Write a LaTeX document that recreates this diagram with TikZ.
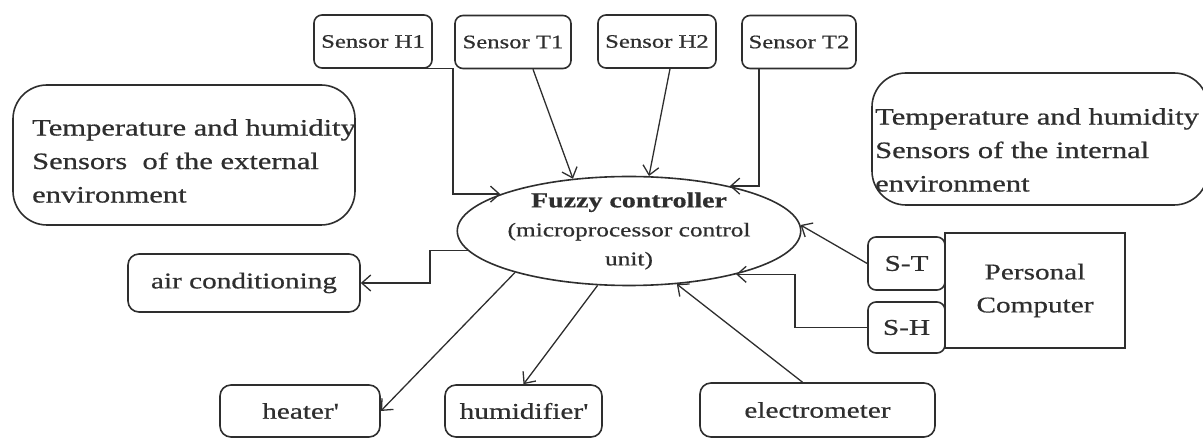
\documentclass[tikz,border=0pt]{standalone}
\usepackage{fontspec}
\setmainfont[FakeStretch=1.3, FakeBold=0.6]{Liberation Serif}
\usetikzlibrary{arrows.meta,shapes.geometric}
\definecolor{ink}{gray}{0.18}

\begin{document}
\begin{tikzpicture}[x=1pt,y=-1pt,
  sensorbox/.style={draw=ink, line width=1.6pt, rounded corners=8pt, inner sep=0pt,
    text=ink, font=\fontsize{19}{22}\selectfont},
  unitbox/.style={draw=ink, line width=1.6pt, rounded corners=11pt, inner sep=0pt,
    text=ink, font=\fontsize{22.5}{27}\selectfont},
  pcbox/.style={draw=ink, line width=1.6pt, inner sep=0pt, align=center,
    text=ink, font=\fontsize{22.5}{33}\selectfont},
  bigbox/.style={draw=ink, line width=1.6pt, rounded corners=34pt},
  bigtext/.style={inner sep=0pt, align=left, anchor=west, text=ink,
    font=\fontsize{23.5}{33.5}\selectfont},
  ctrl/.style={draw=ink, line width=1.6pt, ellipse, inner sep=0pt, align=center,
    text=ink, font=\fontsize{19.5}{29}\selectfont},
  link/.style={draw=ink, line width=1.3pt, -{Straight Barb[length=9pt,width=16pt]}}
]
\useasboundingbox (0,0) rectangle (1203,443);
\clip (0,0) rectangle (1203,443);

% sensors along the top
\node[sensorbox, minimum width=118pt, minimum height=53pt] (h1) at (373,41.5) {Sensor H1};
\node[sensorbox, minimum width=116pt, minimum height=53pt] (t1) at (513,42) {Sensor T1};
\node[sensorbox, minimum width=118pt, minimum height=53pt] (h2) at (657,41.5) {Sensor H2};
\node[sensorbox, minimum width=114pt, minimum height=53pt] (t2) at (799,42) {Sensor T2};

% environment groups
\node[bigbox, minimum width=342pt, minimum height=140pt] (extbox) at (184,155) {};
\node[bigtext] (exttext) at (32,161)
  {Temperature and humidity\\Sensors\ \ of the external\\environment};
\node[bigbox, minimum width=336pt, minimum height=132pt] (intbox) at (1040,139) {};
\node[bigtext] (inttext) at (875,150)
  {Temperature and humidity\\Sensors of the internal\\environment};

% controller
\node[ctrl, minimum width=292pt, minimum height=102pt] (fc) at (629,231)
  {{\fontsize{21.5}{29}\selectfont\bfseries Fuzzy controller}\\(microprocessor control\\unit)};

% actuators and meter
\node[unitbox, minimum width=232pt, minimum height=58pt] (ac) at (244,283) {air conditioning};
\node[unitbox, minimum width=160pt, minimum height=52pt] (heater) at (300,411) {heater\textquotesingle};
\node[unitbox, minimum width=157pt, minimum height=52pt] (hum) at (523.5,411) {humidifier\textquotesingle};
\node[unitbox, minimum width=235pt, minimum height=54pt] (el) at (817.5,410) {electrometer};

% computer with its two channels
\node[sensorbox, font=\fontsize{22.5}{27}\selectfont, minimum width=77pt, minimum height=53pt] (st) at (906.5,263.5) {S-T};
\node[sensorbox, font=\fontsize{22.5}{27}\selectfont, minimum width=77pt, minimum height=51pt] (sh) at (906.5,327.5) {S-H};
\node[pcbox, minimum width=180pt, minimum height=115pt] (pc) at (1035,290.5) {Personal\\Computer};

% bend points
\coordinate (h1bend) at (453,130);
\coordinate (acbend) at (430,265);
\coordinate (shbend) at (795,300);

% sensor inputs
\draw[link] ([xshift=28pt]h1.south) -| (h1bend) |- (fc.164);
\draw[link] ([xshift=20pt]t1.south) -- (fc.137);
\draw[link] ([xshift=13pt]h2.south) -- (fc.70);
\draw[link] ([xshift=-40pt]t2.south) |- (fc.24);

% computer channels
\draw[link] (st.west) -- (fc.2);
\draw[link] (sh.west) -| (shbend) |- (fc.-22);

% meter and outputs
\draw[link] ([xshift=-15pt]el.north) -- (fc.-48);
\draw[link] (fc.187) -| (acbend) |- (ac.east);
\draw[link] (fc.-160) -- (heater.east);
\draw[link] (fc.-120) -- (hum.north);
\end{tikzpicture}
\end{document}
